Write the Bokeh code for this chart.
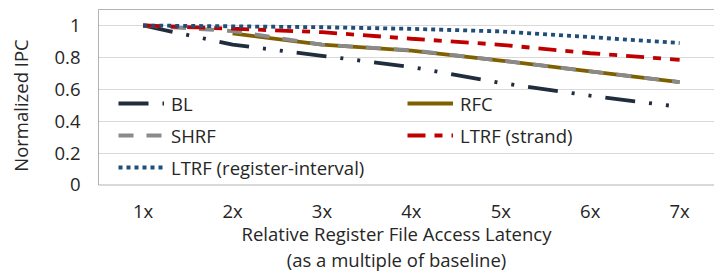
import math
from bokeh.plotting import figure
from bokeh.models import Range1d, FixedTicker, Legend, LegendItem, Label, BoxAnnotation
from bokeh.embed import file_html
from bokeh.resources import INLINE

categories = ["1x", "2x", "3x", "4x", "5x", "6x", "7x"]
x_pos = [1, 2, 3, 4, 5, 6, 7]
bl = [1.0, 0.88, 0.81, 0.74, 0.64, 0.56, 0.49]
rfc_x = [2, 3, 4, 5, 6, 7]
rfc = [0.95, 0.88, 0.843, 0.78, 0.713, 0.645]
shrf = [1.0, 0.965, 0.88, 0.845, 0.78, 0.713, 0.645]
ltrf_strand = [1.0, 0.98, 0.958, 0.917, 0.879, 0.826, 0.785]
ltrf_reg = [1.0, 0.995, 0.989, 0.979, 0.963, 0.927, 0.89]
y_ticks = [0, 0.2, 0.4, 0.6, 0.8, 1.0]
y_tick_labels = ["0", "0.2", "0.4", "0.6", "0.8", "1"]
x_title = ["Relative Register File Access Latency", "(as a multiple of baseline)"]
y_title = "Normalized IPC"

FONT = "Open Sans"
FS = "18.5px"
TXT = "#262626"

# plot box (data coords): x from 0.5 (left edge) ; y from 0 to 1.1
X_LEFT, Y_TOP = 0.5, 1.1

p = figure(width=714, height=275, output_backend="svg", toolbar_location=None,
           x_range=Range1d(-0.596, 7.39), y_range=Range1d(-0.5674, 1.1567),
           min_border_left=0, min_border_right=0, min_border_top=0, min_border_bottom=0)
p.outline_line_color = None
p.background_fill_color = "white"
p.border_fill_color = "white"

p.xaxis.ticker = FixedTicker(ticks=x_pos)
p.xaxis.major_label_overrides = {x: c for x, c in zip(x_pos, categories)}
p.xaxis.fixed_location = 0
p.yaxis.ticker = FixedTicker(ticks=y_ticks)
p.yaxis.major_label_overrides = {t: l for t, l in zip(y_ticks, y_tick_labels)}
p.yaxis.fixed_location = X_LEFT
for ax in (p.xaxis, p.yaxis):
    ax.major_tick_line_color = None
    ax.minor_tick_line_color = None
    ax.axis_line_color = None
    ax.major_label_text_font = FONT
    ax.major_label_text_font_size = FS
    ax.major_label_text_color = TXT
p.xaxis.major_label_standoff = 7
p.yaxis.major_label_standoff = 12

p.xgrid.grid_line_color = None
p.ygrid.ticker = FixedTicker(ticks=y_ticks[1:])
p.ygrid.grid_line_color = "#d9d9d9"
p.ygrid.grid_line_width = 1
p.ygrid.cross_bounds = (X_LEFT, 9)

# plot box border
p.add_layout(BoxAnnotation(left=X_LEFT, right=9, bottom=0, top=Y_TOP, fill_alpha=0,
                           line_color="black", line_width=1, level="underlay"))

# titles
for i, t in enumerate(x_title):
    p.add_layout(Label(x=396, y=42 - 25.5 * i, x_units="screen", y_units="screen", text=t,
                       text_align="center", text_baseline="middle",
                       text_font=FONT, text_font_size=FS, text_color=TXT))
p.add_layout(Label(x=20, y=170, x_units="screen", y_units="screen", text=y_title,
                   angle=math.pi / 2, text_align="center", text_baseline="middle",
                   text_font=FONT, text_font_size=FS, text_color=TXT))

W = 3.8
r_bl = p.line(x_pos, bl, line_color="#1f2d3d", line_width=W, line_dash="30 14 3 14 3 14")
r_rfc = p.line(rfc_x, rfc, line_color="#7f6000", line_width=W)
r_shrf = p.line(x_pos, shrf, line_color="#8a8a8a", line_width=W, line_dash="15 13")
r_str = p.line(x_pos, ltrf_strand, line_color="#c00000", line_width=W, line_dash="18 9 8 9")
r_reg = p.line(x_pos, ltrf_reg, line_color="#1f4e79", line_width=W, line_dash="4 4")

def mk_legend(items, loc):
    return Legend(items=items, location=loc, orientation="vertical",
                  glyph_width=46, glyph_height=26, label_height=26, spacing=6,
                  label_standoff=7, padding=0, margin=0,
                  background_fill_alpha=0, border_line_alpha=0,
                  label_text_font=FONT, label_text_font_size=FS, label_text_color=TXT)

left_leg = mk_legend([LegendItem(label="BL", renderers=[r_bl]),
                      LegendItem(label="SHRF", renderers=[r_shrf]),
                      LegendItem(label="LTRF (register-interval)", renderers=[r_reg])], (118, 95))
right_leg = mk_legend([LegendItem(label="RFC", renderers=[r_rfc]),
                       LegendItem(label="LTRF (strand)", renderers=[r_str])], (407, 127))
p.add_layout(left_leg)
p.add_layout(right_leg)

open("out.html", "w").write(file_html(p, INLINE))
